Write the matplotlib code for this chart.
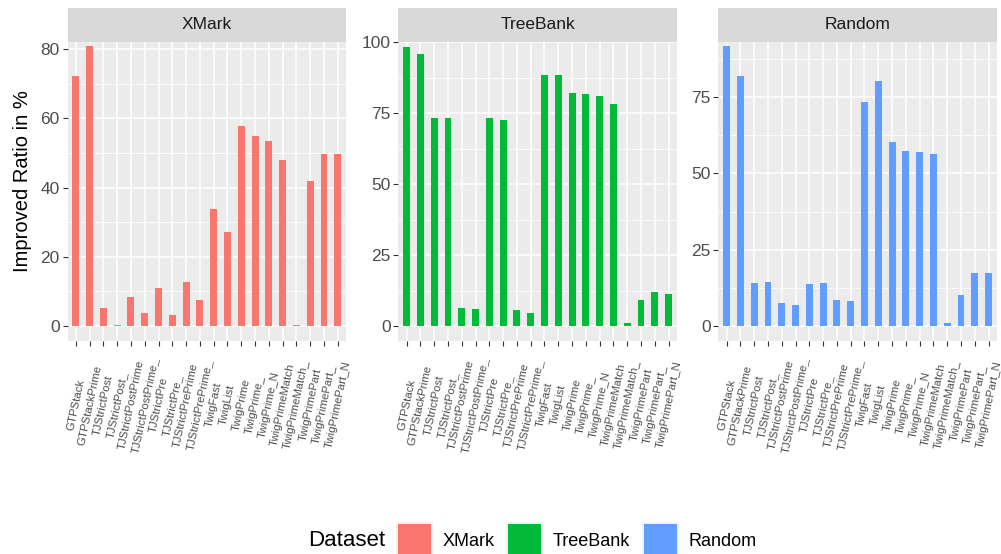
import matplotlib
matplotlib.use("Agg")
import matplotlib.pyplot as plt
from matplotlib.patches import Rectangle
import numpy as np

plt.rcParams["font.family"] = ["Liberation Sans", "DejaVu Sans"]

CATEGORIES = [
    "GTPStack", "GTPStackPrime", "TJStrictPost", "TJStrictPost_",
    "TJStrictPostPrime", "TJStrictPostPrime_", "TJStrictPre", "TJStrictPre_",
    "TJStrictPrePrime", "TJStrictPrePrime_", "TwigFast", "TwigList",
    "TwigPrime", "TwigPrime_", "TwigPrime_N", "TwigPrimeMatch",
    "TwigPrimeMatch_", "TwigPrimePart", "TwigPrimePart_", "TwigPrimePart_N",
]

DATASETS = ["XMark", "TreeBank", "Random"]
COLORS = ["#F8766D", "#00BA38", "#619CFF"]

xmark = [72.2, 80.9, 5.2, 0.3, 8.4, 3.8, 11.0, 3.2, 12.7, 7.5,
         33.8, 27.2, 57.8, 54.9, 53.5, 48.0, 0.3, 41.9, 49.7, 49.7]
treebank = [98.5, 95.7, 73.2, 73.2, 6.3, 6.0, 73.2, 72.5, 5.6, 4.6,
            88.6, 88.6, 82.0, 81.6, 80.9, 78.1, 0.9, 9.1, 12.0, 11.3]
random_ = [91.7, 81.9, 14.1, 14.4, 7.5, 6.9, 13.8, 14.1, 8.5, 8.2,
           73.4, 80.3, 60.3, 57.3, 57.0, 56.3, 1.0, 10.2, 17.4, 17.4]
VALUES = [xmark, treebank, random_]

Y_TICKS = [[0, 20, 40, 60, 80], [0, 25, 50, 75, 100], [0, 25, 50, 75]]
Y_LIMS = [(-4.35, 82.2), (-5.3, 100.2), (-4.9, 93.1)]

W, H = 1001, 554
fig = plt.figure(figsize=(W / 100, H / 100), dpi=100)

panel_left = [67.5, 398.3, 718.3]
panel_w = 278.6
panel_top, panel_bot = 41.7, 341.0
strip_top = 7.7

x = np.arange(len(CATEGORIES))

for i, name in enumerate(DATASETS):
    ax = fig.add_axes([panel_left[i] / W, 1 - panel_bot / H,
                       panel_w / W, (panel_bot - panel_top) / H])
    ax.set_facecolor("#EBEBEB")
    for s in ax.spines.values():
        s.set_visible(False)

    ax.bar(x, VALUES[i], width=0.5, color=COLORS[i], zorder=3)

    ax.set_xlim(-0.6, len(CATEGORIES) - 0.4)
    ax.set_ylim(*Y_LIMS[i])
    ticks = Y_TICKS[i]
    ax.set_yticks(ticks)
    step = ticks[1] - ticks[0]
    minors = [t + step / 2 for t in ticks] + [ticks[0] - step / 2]
    minors = [m for m in minors if Y_LIMS[i][0] < m < Y_LIMS[i][1]]
    ax.set_yticks(minors, minor=True)
    ax.set_xticks(x)
    ax.set_xticklabels(CATEGORIES, rotation=78, ha="center", va="center",
                       fontsize=8.2, color="#4D4D4D")

    ax.grid(which="major", color="white", linewidth=1.1, zorder=1)
    ax.grid(which="minor", axis="y", color="white", linewidth=0.55, zorder=1)
    ax.set_axisbelow(True)

    ax.tick_params(axis="y", which="major", length=3.6, width=0.8,
                   color="#333333", labelsize=12.5, labelcolor="#4D4D4D", pad=2)
    ax.tick_params(axis="x", which="major", length=3.6, width=0.8,
                   color="#333333", pad=42.5)
    ax.tick_params(which="minor", length=0)

    # strip on top
    sax = fig.add_axes([panel_left[i] / W, 1 - panel_top / H,
                        panel_w / W, (panel_top - strip_top) / H])
    sax.set_facecolor("#D9D9D9")
    sax.set_xticks([])
    sax.set_yticks([])
    for s in sax.spines.values():
        s.set_visible(False)
    sax.text(0.5, 0.5, name, ha="center", va="center", fontsize=12.5,
             color="#1A1A1A", transform=sax.transAxes)

fig.text(23 / W, 1 - 181.5 / H, "Improved Ratio in %", rotation=90,
         ha="center", va="center", fontsize=14.5, color="black")

# legend drawn at the bottom
fig.text(308 / W, 1 - 541 / H, "Dataset", ha="left", va="center",
         fontsize=16, color="black")
key_left = [398, 508, 644]
label_left = [443, 553, 689]
for i, name in enumerate(DATASETS):
    fig.add_artist(Rectangle((key_left[i] / W - 2 / W, 1 - 560 / H),
                             37 / W, 38 / H, transform=fig.transFigure,
                             facecolor="#F2F2F2", edgecolor="none"))
    fig.add_artist(Rectangle((key_left[i] / W, 1 - 558 / H), 33 / W, 34 / H,
                             transform=fig.transFigure,
                             facecolor=COLORS[i], edgecolor="none"))
    fig.text(label_left[i] / W, 1 - 541 / H, name, ha="left", va="center",
             fontsize=13, color="black")

fig.savefig("out.png", dpi=100)
